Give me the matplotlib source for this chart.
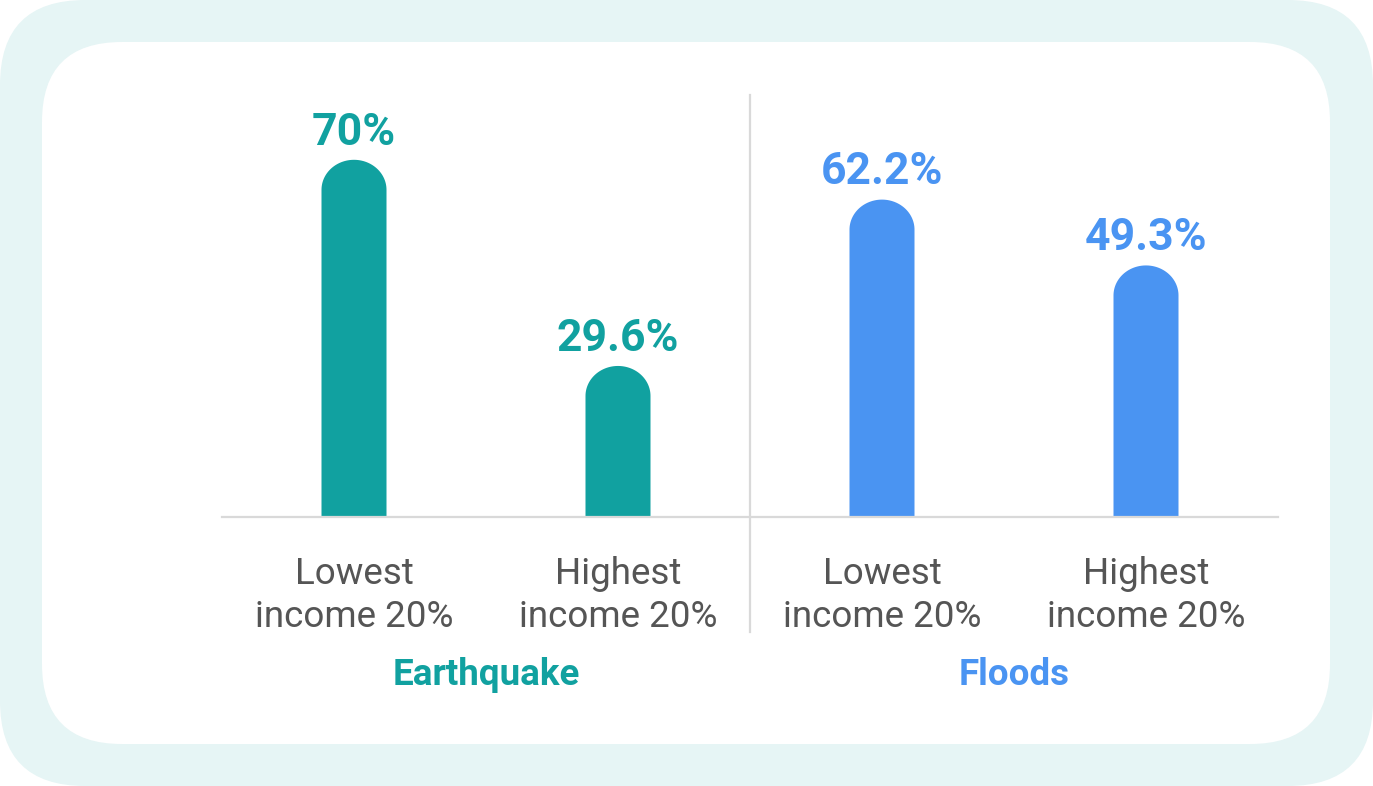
import matplotlib
matplotlib.use("Agg")
import matplotlib.pyplot as plt
from matplotlib.patches import FancyBboxPatch, Polygon
import matplotlib.transforms as mtransforms
import numpy as np

plt.rcParams['font.family'] = ['Roboto', 'DejaVu Sans']

# ---- data ----
groups = ["Earthquake", "Floods"]
categories = ["Lowest\nincome 20%", "Highest\nincome 20%", "Lowest\nincome 20%", "Highest\nincome 20%"]
values = [70.0, 29.6, 62.2, 49.3]
value_labels = ["70%", "29.6%", "62.2%", "49.3%"]
group_colors = ["#11A1A0", "#4A94F2"]
bar_colors = [group_colors[0], group_colors[0], group_colors[1], group_colors[1]]

W, H = 1373, 786
fig = plt.figure(figsize=(W / 100, H / 100), dpi=100)
fig.patch.set_facecolor("white")

# background rounded panels (pixel coordinates)
bg = fig.add_axes([0, 0, 1, 1])
bg.set_xlim(0, W)
bg.set_ylim(0, H)
bg.axis("off")
bg.add_patch(FancyBboxPatch((0, 0), W, H, boxstyle="round,pad=0,rounding_size=85",
                            facecolor="#E6F5F5", edgecolor="none"))
bg.add_patch(FancyBboxPatch((42, 42), 1330 - 42, 744 - 42, boxstyle="round,pad=0,rounding_size=80",
                            facecolor="white", edgecolor="none"))

# main axes
ax_left, ax_right = 222, 1278
ax_bottom_px, ax_top_px = 517, 95
ax = fig.add_axes([ax_left / W, (H - ax_bottom_px) / H, (ax_right - ax_left) / W,
                   (ax_bottom_px - ax_top_px) / H])
ax.patch.set_alpha(0)
x = np.arange(len(values))
ax.set_xlim(-0.5, len(values) - 0.5)
ymax = 82.7
ax.set_ylim(0, ymax)

px_per_x = (ax_right - ax_left) / len(values)
px_per_y = (ax_bottom_px - ax_top_px) / ymax
bar_w = 65 / px_per_x
cap_h = 30 / px_per_y
t = np.linspace(np.pi, 0, 60)
for xi, v, c in zip(x, values, bar_colors):
    rx = bar_w / 2
    verts = [(xi - rx, 0), (xi - rx, v - cap_h)]
    verts += [(xi + rx * np.cos(a), v - cap_h + cap_h * np.sin(a)) for a in t]
    verts += [(xi + rx, 0)]
    ax.add_patch(Polygon(verts, closed=True, facecolor=c, edgecolor="none"))
    ax.annotate(value_labels[xi], (xi, v), xytext=(0, 11), textcoords="offset points",
                ha="center", va="baseline", fontsize=32, fontweight="bold", color=c)

for s in ["left", "right", "top"]:
    ax.spines[s].set_visible(False)
ax.spines["bottom"].set_color("#D9D9D9")
ax.spines["bottom"].set_linewidth(1.6)
ax.set_yticks([])
ax.set_xticks(x)
ax.set_xticklabels(categories, fontsize=26.5, color="#555555", linespacing=1.27)
ax.tick_params(axis="x", length=0, pad=28)

# divider
ax.axvline(1.5, ymin=(ax_bottom_px - 632) / (ax_bottom_px - ax_top_px), ymax=1.0,
           color="#D9D9D9", lw=1.6, clip_on=False)

# group labels
trans = mtransforms.blended_transform_factory(ax.transData, ax.transAxes)
gy = (ax_bottom_px - 685) / (ax_bottom_px - ax_top_px)
for gi, (g, gc) in enumerate(zip(groups, group_colors)):
    ax.text(2 * gi + 0.5, gy, g, transform=trans, ha="center", va="baseline",
            fontsize=26.5, fontweight="bold", color=gc)

fig.savefig("out.png", dpi=100, facecolor="white")
